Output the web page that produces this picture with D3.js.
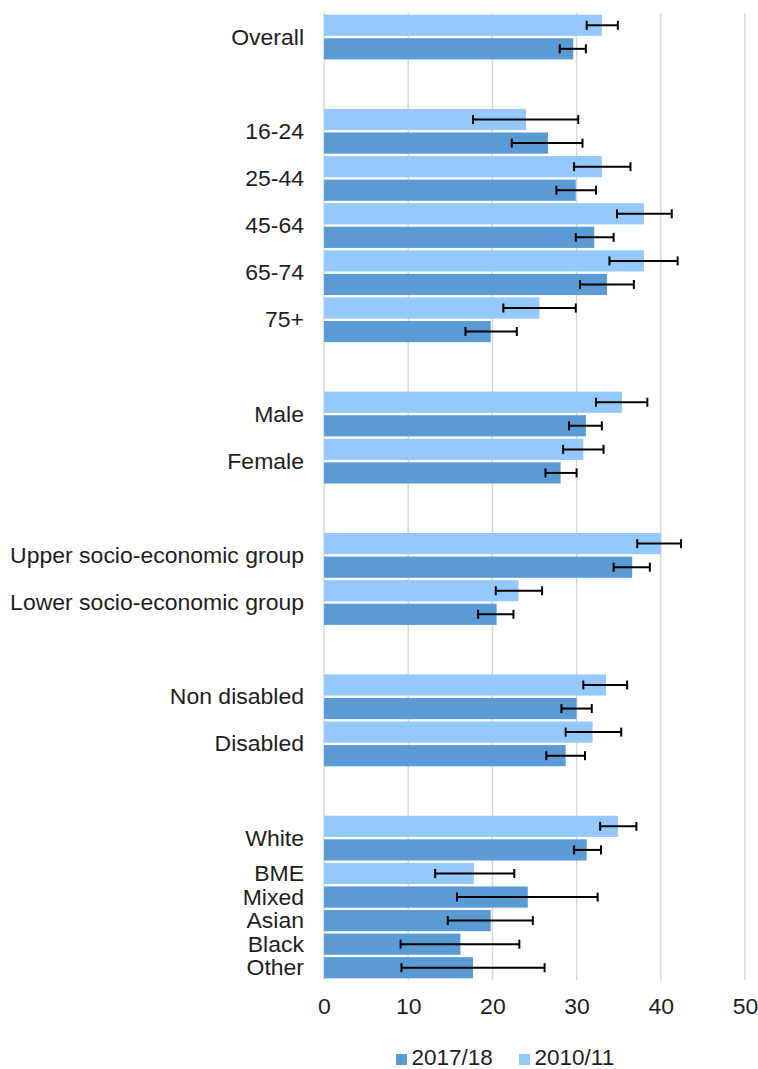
<!DOCTYPE html>
<html>
<head>
<meta charset="utf-8">
<script src="https://cdn.jsdelivr.net/npm/d3@7"></script>
<style>
  html, body { margin: 0; padding: 0; background: #fff; }
  svg { display: block; font-family: "Liberation Sans", Arial, sans-serif; }
</style>
</head>
<body>
<svg id="chart" width="758" height="1069"></svg>
<script>
// Categories, top to bottom
const categories = [
  "Overall",
  "16-24", "25-44", "45-64", "65-74", "75+",
  "Male", "Female",
  "Upper socio-economic group", "Lower socio-economic group",
  "Non disabled", "Disabled",
  "White", "BME", "Mixed", "Asian", "Black", "Other"
];
// Which block each category belongs to (blocks are separated by an empty row)
const blocks = [0, 1, 1, 1, 1, 1, 2, 2, 3, 3, 4, 4, 5, 5, 5, 5, 5, 5];

// 2010/11 estimates with lower / upper confidence limits
const values2010 = [33.0, 24.0, 33.0, 38.0, 38.0, 25.6, 35.4, 30.8, 40.0, 23.1, 33.5, 31.9, 34.9, 17.8, null, null, null, null];
const lower2010  = [31.2, 17.7, 29.7, 34.8, 33.9, 21.3, 32.3, 28.4, 37.2, 20.4, 30.8, 28.7, 32.8, 13.2, null, null, null, null];
const upper2010  = [34.9, 30.2, 36.4, 41.3, 42.0, 29.9, 38.4, 33.2, 42.4, 25.9, 36.0, 35.3, 37.1, 22.6, null, null, null, null];

// 2017/18 estimates with lower / upper confidence limits
const values2017 = [29.6, 26.6, 29.9, 32.1, 33.6, 19.8, 31.1, 28.1, 36.6, 20.5, 30.0, 28.7, 31.2, null, 24.2, 19.8, 16.2, 17.7];
const lower2017  = [28.0, 22.3, 27.6, 29.9, 30.4, 16.8, 29.1, 26.3, 34.4, 18.3, 28.2, 26.4, 29.7, null, 15.8, 14.7, 9.1, 9.2];
const upper2017  = [31.1, 30.7, 32.3, 34.4, 36.8, 22.9, 33.0, 30.0, 38.7, 22.5, 31.8, 31.0, 32.9, null, 32.5, 24.8, 23.2, 26.2];

const xTicks = [0, 10, 20, 30, 40, 50];
const legendItems = ["2017/18", "2010/11"];

const colors = { "2010/11": "#95c8fd", "2017/18": "#5b9bd5" };
const textColor = "#1e1e1e";
const fontSize = 21.5;
const stretch = 1.07;   // slightly wide lettering

// One slot per bar, two empty slots between blocks
const bars = [];
const labelSlots = [];
let slot = 0;
categories.forEach((cat, i) => {
  if (i > 0 && blocks[i] !== blocks[i - 1]) slot += 2;
  const first = slot;
  const series = [
    { name: "2010/11", v: values2010[i], lo: lower2010[i], hi: upper2010[i] },
    { name: "2017/18", v: values2017[i], lo: lower2017[i], hi: upper2017[i] }
  ];
  series.forEach(s => {
    if (s.v == null) return;
    bars.push({ cat, slot, ...s });
    slot += 1;
  });
  labelSlots.push({ cat, first, last: slot - 1 });
});
const nSlots = slot;

const svg = d3.select("#chart");

const x = d3.scaleLinear().domain([0, 50]).range([324, 745]);
const y = d3.scaleBand()
  .domain(d3.range(nSlots))
  .range([13.5, 979.5])
  .paddingInner(0.1)
  .paddingOuter(0.05);

// Vertical gridlines
svg.append("g")
  .selectAll("line")
  .data(xTicks)
  .join("line")
  .attr("x1", d => x(d)).attr("x2", d => x(d))
  .attr("y1", 13).attr("y2", 980)
  .attr("stroke", "#d6d6d6")
  .attr("stroke-width", 1.4);

// Bars
svg.append("g")
  .selectAll("rect")
  .data(bars)
  .join("rect")
  .attr("x", x(0))
  .attr("y", d => y(d.slot))
  .attr("width", d => x(d.v) - x(0))
  .attr("height", y.bandwidth())
  .attr("fill", d => colors[d.name]);

// Error bars with end caps
const err = svg.append("g")
  .attr("stroke", "#000")
  .attr("stroke-width", 2)
  .selectAll("g")
  .data(bars)
  .join("g");
err.append("line")
  .attr("x1", d => x(d.lo)).attr("x2", d => x(d.hi))
  .attr("y1", d => y(d.slot) + y.bandwidth() / 2)
  .attr("y2", d => y(d.slot) + y.bandwidth() / 2);
err.selectAll("line.cap")
  .data(d => [{ v: d.lo, s: d.slot }, { v: d.hi, s: d.slot }])
  .join("line")
  .attr("class", "cap")
  .attr("x1", d => x(d.v)).attr("x2", d => x(d.v))
  .attr("y1", d => y(d.s) + y.bandwidth() / 2 - 4.5)
  .attr("y2", d => y(d.s) + y.bandwidth() / 2 + 4.5);

// Category labels
svg.append("g")
  .selectAll("text")
  .data(labelSlots)
  .join("text")
  .attr("transform", d =>
    `translate(304,${(y(d.first) + y(d.last) + y.bandwidth()) / 2}) scale(${stretch},1)`)
  .attr("dy", "0.35em")
  .attr("text-anchor", "end")
  .attr("font-size", fontSize)
  .attr("fill", textColor)
  .text(d => d.cat);

// Value axis
const axis = svg.append("g")
  .attr("transform", "translate(0,980)")
  .call(d3.axisBottom(x).tickValues(xTicks).tickSize(0).tickPadding(19).tickFormat(d3.format("d")));
axis.select(".domain").remove();
axis.selectAll("text")
  .attr("font-family", "'Liberation Sans', Arial, sans-serif")
  .attr("font-size", fontSize)
  .attr("fill", textColor)
  .attr("transform", `scale(${stretch},1)`);

// Legend
const legendX = [396, 519];
const legend = svg.append("g")
  .selectAll("g")
  .data(legendItems)
  .join("g")
  .attr("transform", (d, i) => `translate(${legendX[i]},1054)`);
legend.append("rect")
  .attr("width", 11).attr("height", 11)
  .attr("fill", d => colors[d]);
legend.append("text")
  .attr("x", 15.5)
  .attr("y", 10.5)
  .attr("font-size", 22.5)
  .attr("fill", textColor)
  .text(d => d);
</script>
</body>
</html>
